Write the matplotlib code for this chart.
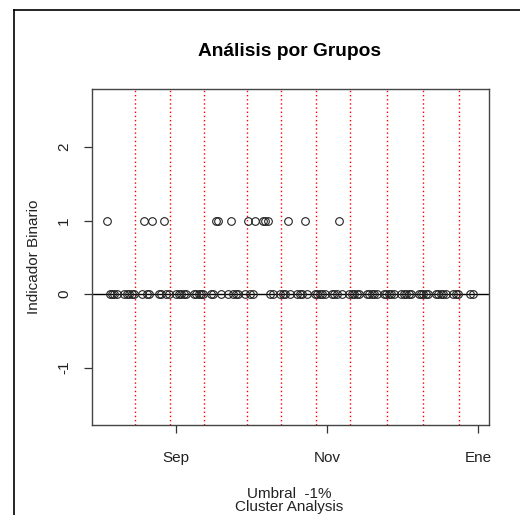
import matplotlib
matplotlib.use("Agg")
import matplotlib.pyplot as plt
from matplotlib.lines import Line2D
import datetime as dt

plt.rcParams['font.family'] = ['Liberation Sans', 'DejaVu Sans']

# ---- data ----
year = 2008
# days with indicator = 1
ones_aug = [4, 19, 22, 27]
ones_sep = [17, 18, 23, 30]
ones_oct = [3, 6, 7, 8, 16, 23]
ones_nov = [6]
ones_dec = []
# days with indicator = 0
zeros_aug = [5, 6, 7, 8, 11, 12, 13, 14, 15, 18, 20, 21, 25, 26, 28, 29]
zeros_sep = [1, 2, 3, 4, 5, 8, 9, 10, 11, 12, 15, 16, 19, 22, 24, 25, 26, 29]
zeros_oct = [1, 2, 9, 10, 13, 14, 15, 17, 20, 21, 22, 24, 27, 28, 29, 30, 31]
zeros_nov = [3, 4, 5, 7, 10, 11, 12, 13, 14, 17, 18, 19, 20, 21, 24, 25, 26, 27, 28]
zeros_dec = [1, 2, 3, 4, 5, 8, 9, 10, 11, 12, 15, 16, 17, 18, 19, 22, 23, 24, 29, 30]

# cluster boundaries (red dotted lines)
boundaries = ["2008-08-15 12:00", "2008-08-29 14:00", "2008-09-12 08:00",
              "2008-09-29 17:00", "2008-10-13 10:00", "2008-10-27 14:00",
              "2008-11-10 08:00", "2008-11-25 08:00", "2008-12-09 20:00",
              "2008-12-24 08:00"]

tick_dates = ["2008-09-01", "2008-11-01", "2009-01-01"]
tick_labels = ["Sep", "Nov", "Ene"]
y_ticks = [-1, 0, 1, 2]
x_lim = ["2008-07-28 22:00", "2009-01-05 12:00"]
y_lim = [-1.78, 2.79]


def mk(month_days):
    out = []
    for m, days in month_days:
        out += [dt.datetime(year, m, d) for d in days]
    return out


ones_dates = mk([(8, ones_aug), (9, ones_sep), (10, ones_oct), (11, ones_nov), (12, ones_dec)])
zeros_dates = mk([(8, zeros_aug), (9, zeros_sep), (10, zeros_oct), (11, zeros_nov), (12, zeros_dec)])
P = lambda s: dt.datetime.fromisoformat(s)

FS = 11.0

fig = plt.figure(figsize=(5.2, 5.15), dpi=100)
ax = fig.add_axes([92 / 520, 1 - 425 / 515, (489 - 92) / 520, (425 - 89) / 515])

ax.axhline(0, color='black', lw=1.0, zorder=1)
for b in boundaries:
    ax.axvline(P(b), color='red', lw=1.0, ls=(0, (1, 2)), zorder=1)

mk_style = dict(ls='none', marker='o', ms=5.5, mfc='none', mec='#222222', mew=0.8, zorder=3)
ax.plot(zeros_dates, [0] * len(zeros_dates), **mk_style)
ax.plot(ones_dates, [1] * len(ones_dates), **mk_style)

ax.set_xlim(P(x_lim[0]), P(x_lim[1]))
ax.set_ylim(*y_lim)
ax.set_xticks([P(t) for t in tick_dates])
ax.set_xticklabels(tick_labels)
ax.set_yticks(y_ticks)
ax.set_yticklabels([str(v) for v in y_ticks], rotation=90, va='center')
ax.tick_params(axis='both', direction='out', length=6, width=0.9, color='#333333',
               labelsize=FS, labelcolor='#222222')
ax.tick_params(axis='x', pad=13)
ax.tick_params(axis='y', pad=9)
for s in ax.spines.values():
    s.set_color('#444444')
    s.set_linewidth(1.0)

ax.set_ylabel("Indicador Binario", fontsize=FS, color='#222222')
ax.yaxis.set_label_coords((41 - 92) / 397, 0.5)

fig.text(290 / 520, 1 - 51 / 515, "Análisis por Grupos", ha='center', va='center',
         fontsize=13.8, fontweight='bold')
fig.text(289 / 520, 1 - 494 / 515, "Umbral  -1%", ha='center', va='center',
         fontsize=FS, color='#222222')
fig.text(289 / 520, 1 / 515, "Cluster Analysis", ha='center', va='bottom',
         fontsize=FS, color='#222222')

# outer frame of the screenshot
fig.add_artist(Line2D([14 / 520, 14 / 520], [1 - 10 / 515, 0], transform=fig.transFigure,
                      color='black', lw=1.2))
fig.add_artist(Line2D([14 / 520, 1], [1 - 10 / 515, 1 - 10 / 515], transform=fig.transFigure,
                      color='black', lw=1.2))

fig.savefig("out.png", dpi=100)
